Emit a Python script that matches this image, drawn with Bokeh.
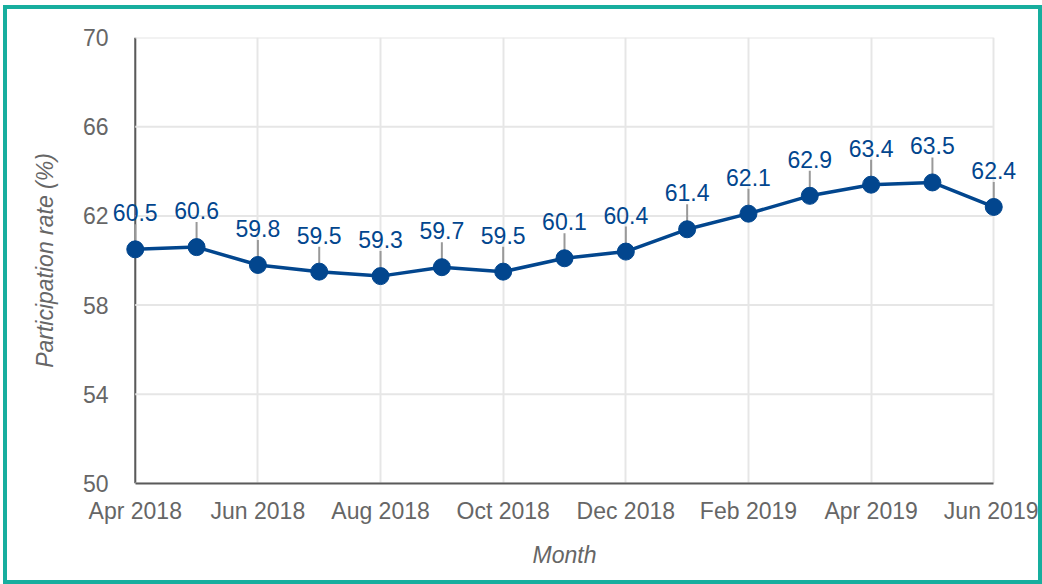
from bokeh.plotting import figure
from bokeh.layouts import column
from bokeh.models import Range1d, FixedTicker, ColumnDataSource, LabelSet, Span
from bokeh.core.properties import value
from bokeh.embed import file_html
from bokeh.resources import INLINE

months = ["Apr 2018", "May 2018", "Jun 2018", "Jul 2018", "Aug 2018", "Sep 2018",
          "Oct 2018", "Nov 2018", "Dec 2018", "Jan 2019", "Feb 2019", "Mar 2019",
          "Apr 2019", "May 2019", "Jun 2019"]
rates = [60.5, 60.6, 59.8, 59.5, 59.3, 59.7, 59.5, 60.1, 60.4, 61.4, 62.1, 62.9,
         63.4, 63.5, 62.4]
y_ticks = [50, 54, 58, 62, 66, 70]

W, H = 1031, 571
ML, MR, MT, MB = 102, 19, 28, 97
y_lo, y_hi = 50, 70
x_pad = 0.42
ppu = (H - MT - MB) / (y_hi - y_lo)  # pixels per data unit

FONT = "Liberation Sans"
BLUE = "#02468e"
GREY_TXT = "#666666"
TEAL = "#17ae9e"

idx = list(range(len(months)))
labels = [f"{r:.1f}" for r in rates]
leader_top = [r + 25 / ppu for r in rates]
src = ColumnDataSource(dict(x=idx, y=rates, lab=labels, ytop=leader_top))

x0, x1 = idx[0], idx[-1]
p = figure(width=W, height=H, output_backend="svg", toolbar_location=None,
           x_range=Range1d(x0 - x_pad, x1 + x_pad), y_range=Range1d(y_lo, y_hi),
           min_border_left=ML, min_border_right=MR, min_border_top=MT,
           min_border_bottom=MB)
p.outline_line_color = None
p.background_fill_color = "white"
p.border_fill_color = "white"

# axes
p.xaxis.ticker = FixedTicker(ticks=idx[::2])
p.xaxis.major_label_overrides = {i: months[i] for i in idx[::2]}
p.xaxis.bounds = (x0, x1)
p.yaxis.ticker = FixedTicker(ticks=y_ticks)
for ax in (p.xaxis, p.yaxis):
    ax.axis_line_color = "#5a5a5a"
    ax.axis_line_width = 2
    ax.major_tick_line_color = None
    ax.minor_tick_line_color = None
    ax.major_tick_out = 0
    ax.major_tick_in = 0
    ax.major_label_text_font = FONT
    ax.major_label_text_font_size = "23px"
    ax.major_label_text_color = GREY_TXT
    ax.axis_label_text_font = FONT
    ax.axis_label_text_font_size = "23px"
    ax.axis_label_text_font_style = "italic"
    ax.axis_label_text_color = GREY_TXT
p.yaxis.axis_line_color = None
p.xaxis.major_label_standoff = 14
p.yaxis.major_label_standoff = 1
p.xaxis.axis_label = "Month"
p.yaxis.axis_label = "Participation rate (%)"
p.xaxis.axis_label_standoff = 15
p.yaxis.axis_label_standoff = 22

p.xgrid.ticker = FixedTicker(ticks=idx[::2])
p.xgrid.grid_line_color = "#e6e6e6"
p.xgrid.grid_line_width = 2
p.ygrid.visible = False

# horizontal grid lines limited to the data span
p.segment(x0=[x0] * len(y_ticks), y0=y_ticks, x1=[x1] * len(y_ticks), y1=y_ticks,
          line_color="#e6e6e6", line_width=2)

# vertical axis line at first month
p.add_layout(Span(location=x0, dimension="height", line_color="#5a5a5a",
                  line_width=2, level="underlay"))

# leader lines
p.segment(x0="x", y0="y", x1="x", y1="ytop", source=src,
          line_color="#999999", line_width=2)
# series
p.line("x", "y", source=src, line_color=BLUE, line_width=3.5)
p.scatter("x", "y", source=src, size=17, fill_color=BLUE, line_color=BLUE)
p.add_layout(LabelSet(x="x", y="y", text="lab", source=src, y_offset=28,
                      text_align="center", text_baseline="alphabetic",
                      text_font=value(FONT), text_font_size="23px",
                      text_color=BLUE))

layout = column(p, margin=(5, 0, 0, 3),
                styles={"border": f"4px solid {TEAL}", "background": "white"})

open("out.html", "w").write(file_html(layout, INLINE))
